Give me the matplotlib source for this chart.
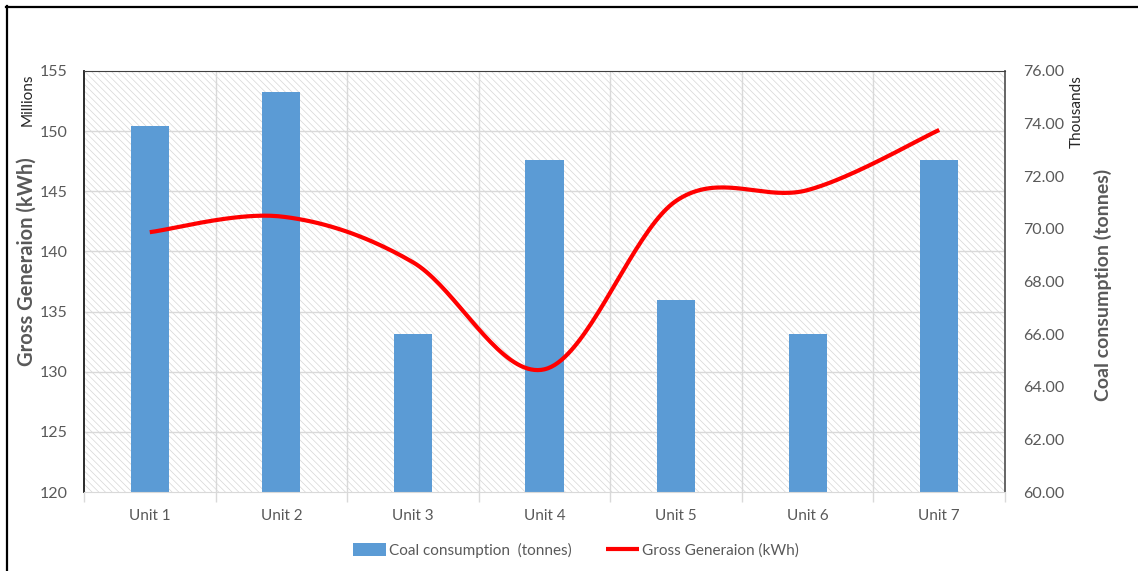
import numpy as np
import matplotlib.pyplot as plt
from matplotlib.patches import Rectangle
from matplotlib.lines import Line2D

# unit-level data: coal in thousand tonnes, generation in million kWh
units = ["Unit 1", "Unit 2", "Unit 3", "Unit 4", "Unit 5", "Unit 6", "Unit 7"]
coal_thousands = [73.9, 75.2, 66.0, 72.6, 67.3, 66.0, 72.6]
gross_millions = [141.6, 142.9, 139.1, 130.2, 144.2, 145.1, 150.1]

left_ticks = [120, 125, 130, 135, 140, 145, 150, 155]
right_ticks = [60, 62, 64, 66, 68, 70, 72, 74, 76]

BAR_BLUE = "#5b9bd5"
LINE_RED = "#ff0000"
GRID = "#d9d9d9"
TEXT = "#595959"

plt.rcParams['font.family'] = ['Lato', 'DejaVu Sans']
plt.rcParams['hatch.linewidth'] = 0.5


def smooth_curve(x, y, steps=40):
    """Bezier smoothing through every point, like a spreadsheet smoothed line."""
    pts = np.column_stack([x, y]).astype(float)
    padded = np.vstack([pts[0], pts, pts[-1]])
    t = np.linspace(0, 1, steps)[1:, None]
    out = [pts[:1]]
    for i in range(len(pts) - 1):
        p0, p3 = padded[i + 1], padded[i + 2]
        c1 = p0 + (padded[i + 2] - padded[i]) / 6
        c2 = p3 - (padded[i + 3] - padded[i + 1]) / 6
        seg = (1 - t) ** 3 * p0 + 3 * (1 - t) ** 2 * t * c1 + 3 * (1 - t) * t ** 2 * c2 + t ** 3 * p3
        out.append(seg)
    curve = np.vstack(out)
    return curve[:, 0], curve[:, 1]


W, H = 1138, 571
fig = plt.figure(figsize=(W / 100, H / 100), dpi=100)
pos = [84 / W, 1 - 492 / H, 921 / W, 421 / H]
x = np.arange(len(units))

# background layer: hatched plot area and gridlines
bg = fig.add_axes(pos, zorder=1)
bg.set_xlim(-0.5, len(units) - 0.5)
bg.set_ylim(left_ticks[0], left_ticks[-1])
bg.add_patch(Rectangle((0, 0), 1, 1, transform=bg.transAxes, facecolor="white",
                       edgecolor="#d6d6d6", hatch="\\\\\\\\\\", linewidth=0, zorder=0))
for v in left_ticks[1:-1]:
    bg.axhline(v, color=GRID, lw=1, zorder=1)
for b in np.arange(0.5, len(units) - 1, 1):
    bg.axvline(b, color=GRID, lw=1, zorder=1)
bg.axis("off")

# gross generation on the left axis (top layer)
ax = fig.add_axes(pos, zorder=3)
ax.patch.set_visible(False)
# coal consumption on the right axis (middle layer)
axr = ax.twinx()
axr.set_zorder(2)
axr.patch.set_visible(False)

bars = axr.bar(x, coal_thousands, width=0.29, color=BAR_BLUE)
axr.set_ylim(right_ticks[0], right_ticks[-1])
axr.set_yticks(right_ticks)
axr.set_yticklabels([f"{v:.2f}" for v in right_ticks])
axr.tick_params(axis="y", length=0, pad=13, labelsize=11.5, labelcolor=TEXT)
for s in axr.spines.values():
    s.set_visible(False)

sx, sy = smooth_curve(x, gross_millions)
line, = ax.plot(sx, sy, color=LINE_RED, lw=3, solid_capstyle="butt")
ax.set_xlim(-0.5, len(units) - 0.5)
ax.set_ylim(left_ticks[0], left_ticks[-1])
ax.set_yticks(left_ticks)
ax.tick_params(axis="y", length=0, pad=12, labelsize=11.5, labelcolor=TEXT)
ax.set_xticks(x)
ax.set_xticklabels(units)
ax.set_xticks(np.arange(-0.5, len(units), 1), minor=True)
ax.tick_params(axis="x", which="major", length=0, pad=12, labelsize=11, labelcolor=TEXT)
ax.tick_params(axis="x", which="minor", length=7, width=1, color=GRID)

ax.spines["left"].set_color("#1a1a1a")
ax.spines["left"].set_linewidth(1.3)
ax.spines["top"].set_color("#404040")
ax.spines["right"].set_color("#595959")
ax.spines["right"].set_linewidth(1.3)
ax.spines["bottom"].set_color(GRID)

# axis titles and unit captions
fig.text(27 / W, 1 - 262 / H, "Gross Generaion (kWh)", rotation=90, ha="center", va="center",
         fontsize=14.5, fontweight="bold", color=TEXT)
fig.text(28 / W, 1 - 100 / H, "Millions", rotation=90, ha="center", va="center",
         fontsize=11, color="#262626")
fig.text(1103 / W, 1 - 285 / H, "Coal consumption (tonnes)", rotation=90, ha="center", va="center",
         fontsize=14, fontweight="bold", color=TEXT)
fig.text(1077 / W, 1 - 112 / H, "Thousands", rotation=90, ha="center", va="center",
         fontsize=11, color="#262626")

leg = fig.legend([bars[0], line], ["Coal consumption  (tonnes)", "Gross Generaion (kWh)"],
                 loc="center", bbox_to_anchor=(576 / W, 1 - 550 / H), ncol=2, frameon=False,
                 fontsize=11, handlelength=2.2, handleheight=0.9, handletextpad=0.2,
                 columnspacing=2.2)
for t in leg.get_texts():
    t.set_color(TEXT)

# outer frame on the top and left edges
fig.add_artist(Line2D([6.5 / W, 6.5 / W], [0, 1 - 6 / H], color="black", lw=1.6))
fig.add_artist(Line2D([6 / W, 1], [1 - 6.5 / H, 1 - 6.5 / H], color="black", lw=1.6))

fig.savefig("out.png", dpi=100, facecolor="white")
